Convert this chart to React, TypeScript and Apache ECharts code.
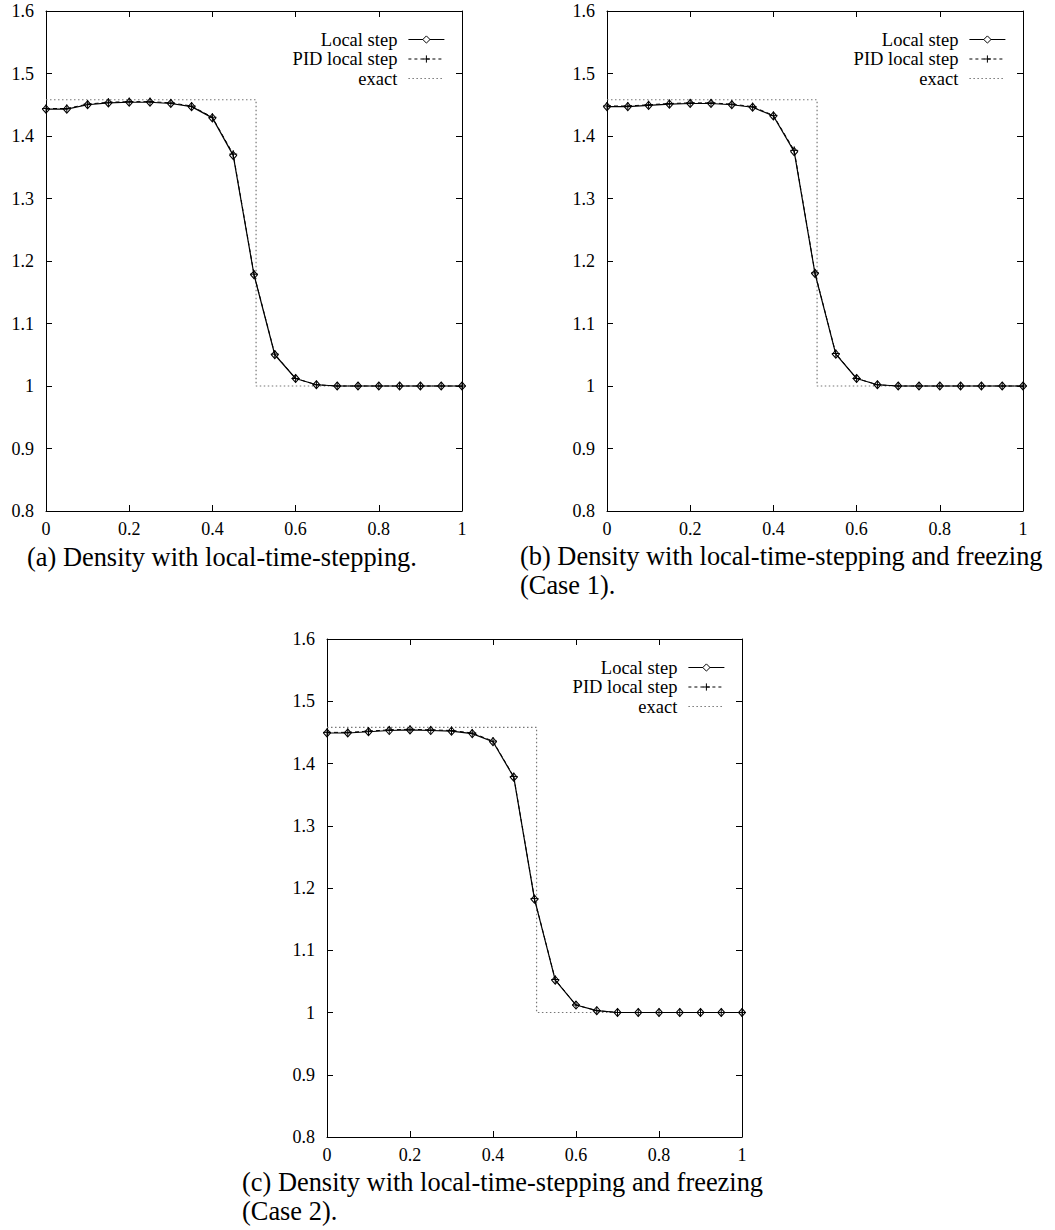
import React, { useEffect, useRef } from "react";
import * as echarts from "echarts";

const xs = [0, 0.05, 0.1, 0.15, 0.2, 0.25, 0.3, 0.35, 0.4, 0.45, 0.5, 0.55, 0.6, 0.65, 0.7, 0.75, 0.8, 0.85, 0.9, 0.95, 1];

const aLocal = [1.443, 1.443, 1.45, 1.453, 1.454, 1.454, 1.452, 1.447, 1.429, 1.369, 1.178, 1.05, 1.012, 1.002, 1.0, 1.0, 1.0, 1.0, 1.0, 1.0, 1.0];
const aPid = [1.444, 1.444, 1.451, 1.454, 1.455, 1.455, 1.453, 1.448, 1.43, 1.371, 1.179, 1.051, 1.012, 1.002, 1.0, 1.0, 1.0, 1.0, 1.0, 1.0, 1.0];
const bLocal = [1.447, 1.447, 1.449, 1.451, 1.452, 1.452, 1.45, 1.446, 1.432, 1.375, 1.18, 1.051, 1.012, 1.002, 1.0, 1.0, 1.0, 1.0, 1.0, 1.0, 1.0];
const bPid = [1.448, 1.448, 1.45, 1.452, 1.453, 1.453, 1.451, 1.447, 1.433, 1.377, 1.181, 1.052, 1.012, 1.002, 1.0, 1.0, 1.0, 1.0, 1.0, 1.0, 1.0];
const cLocal = [1.449, 1.449, 1.451, 1.453, 1.454, 1.453, 1.452, 1.448, 1.435, 1.378, 1.182, 1.052, 1.012, 1.003, 1.0, 1.0, 1.0, 1.0, 1.0, 1.0, 1.0];
const cPid = [1.45, 1.45, 1.452, 1.454, 1.455, 1.454, 1.453, 1.449, 1.436, 1.379, 1.183, 1.053, 1.012, 1.003, 1.0, 1.0, 1.0, 1.0, 1.0, 1.0, 1.0];

const exactX = [0, 0.505, 0.505, 1];
const exactY = [1.458, 1.458, 1.0, 1.0];

const seriesNames = ["Local step", "PID local step", "exact"];
const captions = [
  ["(a) Density with local-time-stepping."],
  ["(b) Density with local-time-stepping and freezing", "(Case 1)."],
  ["(c) Density with local-time-stepping and freezing", "(Case 2)."],
];

const FONT = "Liberation Serif";

const panels = [
  { left: 46, top: 11, width: 416, height: 500, local: aLocal, pid: aPid, cap: captions[0], capX: 27, capY: 557, legRight: 610 },
  { left: 607, top: 11, width: 416, height: 500, local: bLocal, pid: bPid, cap: captions[1], capX: 520, capY: 556, legRight: 49 },
  { left: 327, top: 639, width: 415, height: 498, local: cLocal, pid: cPid, cap: captions[2], capX: 242, capY: 1182, legRight: 330 },
];

const PLUS = "path://M5,0 L5,10 M0,5 L10,5";

function App() {
  const ref = useRef<HTMLDivElement>(null);
  useEffect(() => {
    if (!ref.current) return;
    const chart = echarts.init(ref.current, null, { renderer: "svg" });
    const grid: any[] = [];
    const xAxis: any[] = [];
    const yAxis: any[] = [];
    const series: any[] = [];
    const legend: any[] = [];
    const graphic: any[] = [];
    const fmt = (v: number) => String(parseFloat(v.toFixed(1)));
    panels.forEach((p, i) => {
      grid.push({ left: p.left, top: p.top, width: p.width, height: p.height, show: false });
      const lineStyle = { color: "#000", width: 1 };
      const common = {
        type: "value",
        gridIndex: i,
        splitLine: { show: false },
        axisLine: { show: true, onZero: false, lineStyle },
        axisTick: { show: true, inside: true, length: 6, lineStyle },
      };
      xAxis.push({
        ...common,
        position: "bottom",
        min: 0,
        max: 1,
        interval: 0.2,
        axisLabel: { show: true, color: "#000", fontSize: 18, fontFamily: FONT, margin: 9, formatter: fmt },
      });
      xAxis.push({ ...common, position: "top", min: 0, max: 1, interval: 0.2, axisLabel: { show: false } });
      yAxis.push({
        ...common,
        position: "left",
        min: 0.8,
        max: 1.6,
        interval: 0.1,
        axisLabel: { show: true, color: "#000", fontSize: 18, fontFamily: FONT, margin: 12, formatter: fmt },
      });
      yAxis.push({ ...common, position: "right", min: 0.8, max: 1.6, interval: 0.1, axisLabel: { show: false } });

      const xi = i * 2;
      series.push({
        name: seriesNames[2],
        type: "line",
        xAxisIndex: xi,
        yAxisIndex: xi,
        data: exactX.map((x, k) => [x, exactY[k]]),
        symbol: "none",
        lineStyle: { color: "#777", width: 1.2, type: [1.5, 2.5] },
        itemStyle: { color: "#777" },
        clip: false,
        z: 1,
      });
      series.push({
        name: seriesNames[1],
        type: "line",
        xAxisIndex: xi,
        yAxisIndex: xi,
        data: xs.map((x, k) => [x, p.pid[k]]),
        symbol: PLUS,
        symbolSize: 8,
        showAllSymbol: true,
        lineStyle: { color: "#000", width: 1, type: [4, 3] },
        itemStyle: { color: "none", borderColor: "#000", borderWidth: 1 },
        clip: false,
        z: 3,
      });
      series.push({
        name: seriesNames[0],
        type: "line",
        xAxisIndex: xi,
        yAxisIndex: xi,
        data: xs.map((x, k) => [x, p.local[k]]),
        symbol: "diamond",
        symbolSize: [7, 8],
        showAllSymbol: true,
        lineStyle: { color: "#000", width: 1.2 },
        itemStyle: { color: "rgba(255,255,255,0)", borderColor: "#000", borderWidth: 1 },
        clip: false,
        z: 2,
      });

      legend.push({
        orient: "vertical",
        align: "right",
        right: p.legRight,
        top: p.top + 19,
        padding: 0,
        itemGap: 0.5,
        itemWidth: 36,
        itemHeight: 9,
        selectedMode: false,
        data: [
          {
            name: seriesNames[0],
            itemStyle: { color: "#fff", borderColor: "#000", borderWidth: 1 },
            lineStyle: { color: "#000", width: 1 },
          },
          {
            name: seriesNames[1],
            itemStyle: { color: "#000", borderColor: "#000", borderWidth: 1 },
            lineStyle: { color: "#000", width: 1, type: [3, 3] },
          },
          {
            name: seriesNames[2],
            itemStyle: { color: "rgba(0,0,0,0)", borderColor: "rgba(0,0,0,0)", borderWidth: 0, opacity: 0 },
            lineStyle: { color: "#777", width: 1.2, type: [1.5, 2.5] },
          },
        ],
        textStyle: { color: "#000", fontSize: 18.5, fontFamily: FONT, padding: [0, 6, 0, 0] },
      });

      p.cap.forEach((line, k) => {
        graphic.push({
          type: "text",
          x: p.capX,
          y: p.capY + k * 29,
          style: { text: line, fill: "#000", fontSize: 26.4, fontFamily: FONT, verticalAlign: "middle", align: "left" },
        });
      });
    });

    chart.setOption({
      animation: false,
      backgroundColor: "#fff",
      textStyle: { fontFamily: FONT },
      grid,
      xAxis,
      yAxis,
      series,
      legend,
      graphic,
    });
    return () => chart.dispose();
  }, []);
  return (
    <div
      ref={ref}
      style={{ position: "absolute", left: 0, top: 0, width: 1055, height: 1230, background: "#fff" }}
    />
  );
}

export default App;
